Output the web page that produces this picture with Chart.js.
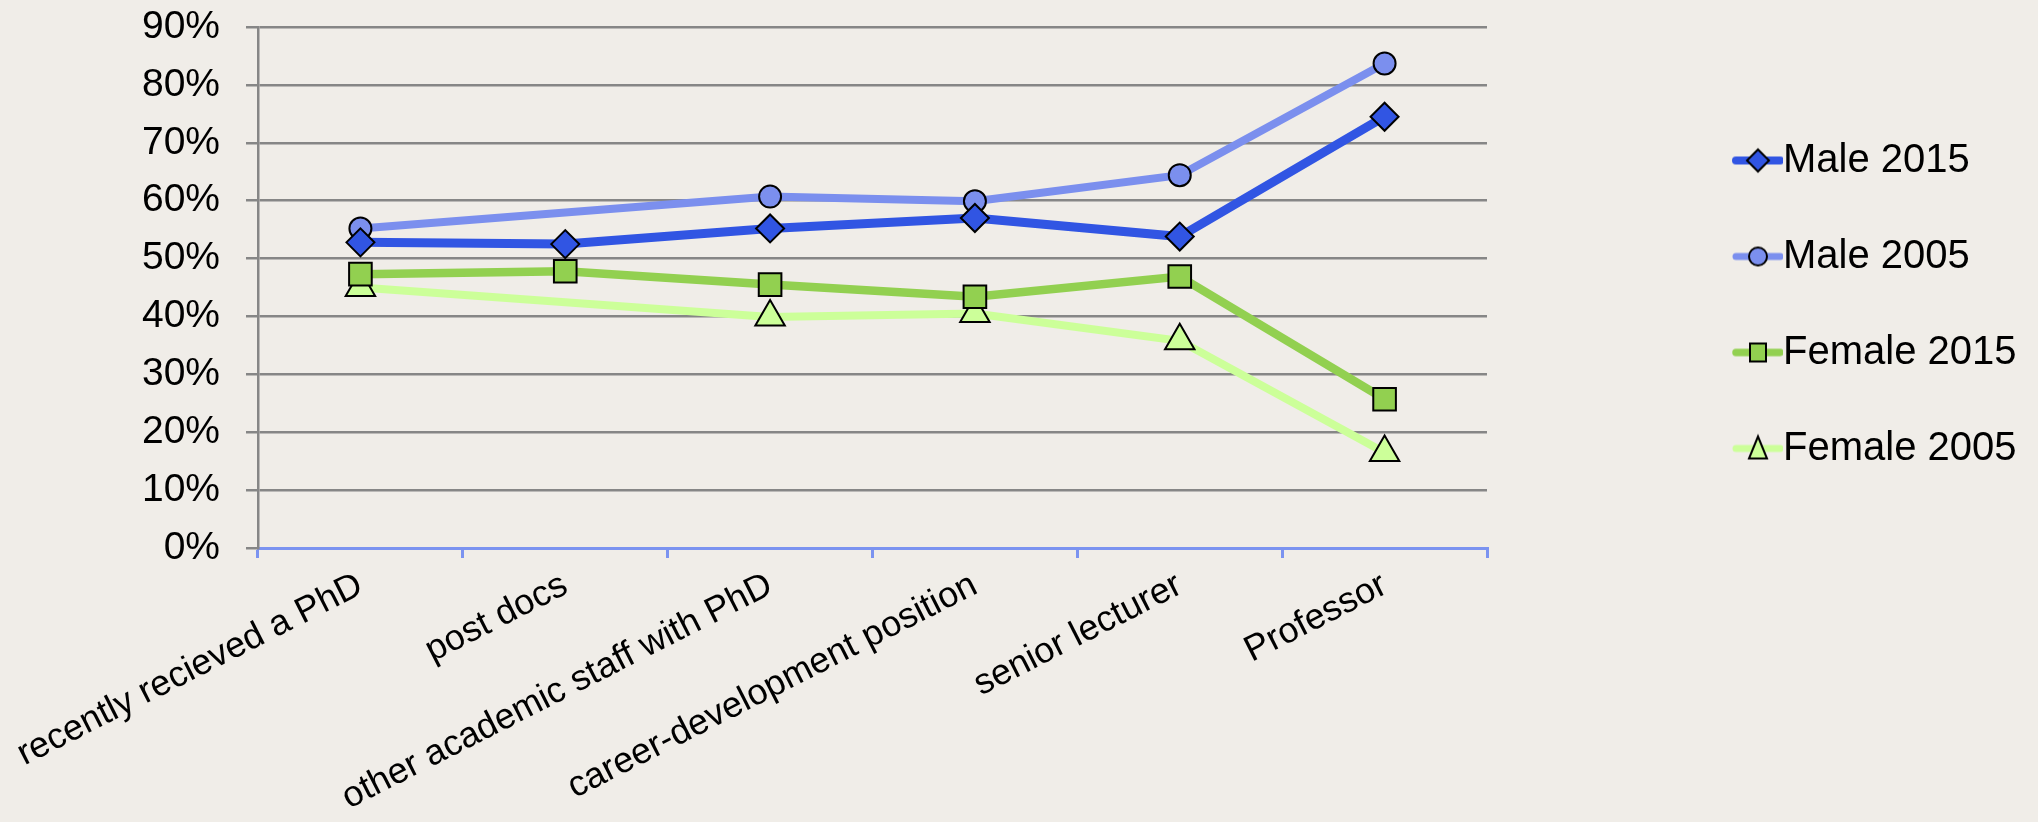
<!DOCTYPE html>
<html>
<head>
<meta charset="utf-8">
<script src="https://cdn.jsdelivr.net/npm/chart.js@4.4.0/dist/chart.umd.min.js"></script>
<style>
  html, body { margin: 0; padding: 0; background: #f0ede8; }
  #wrap { width: 2038px; height: 822px; }
</style>
</head>
<body>
<div id="wrap">
  <canvas id="chart" width="2038" height="822"></canvas>
</div>
<script>
// categories and values (percent)
const categories = ['recently recieved a PhD', 'post docs', 'other academic staff with PhD',
                    'career-development position', 'senior lecturer', 'Professor'];
const male2015   = [52.8, 52.5, 55.2, 57.0, 53.8, 74.5];
const male2005   = [55.2, null, 60.7, 59.9, 64.4, 83.7];
const female2015 = [47.3, 47.8, 45.5, 43.4, 46.9, 25.7];
const female2005 = [45.0, null, 39.9, 40.5, 35.8, 16.5];
const yTicks = [0, 10, 20, 30, 40, 50, 60, 70, 80, 90];

const FONT = 'Liberation Sans, Arial, sans-serif';

// legend symbol: short line with the marker on it
function legendIcon(color, lineW, shape) {
  const c = document.createElement('canvas');
  c.width = 260; c.height = 40;
  const g = c.getContext('2d');
  g.strokeStyle = color; g.lineWidth = lineW; g.lineCap = 'round';
  g.beginPath(); g.moveTo(213, 20); g.lineTo(257, 20); g.stroke();
  const x = 235, y = 20;
  g.beginPath();
  if (shape === 'diamond') {
    g.moveTo(x, y - 11); g.lineTo(x + 11, y); g.lineTo(x, y + 11); g.lineTo(x - 11, y); g.closePath();
  } else if (shape === 'circle') {
    g.arc(x, y, 9, 0, Math.PI * 2);
  } else if (shape === 'square') {
    g.rect(x - 8, y - 9, 16, 18);
  } else {
    g.moveTo(x, y - 12); g.lineTo(x + 9, y + 10); g.lineTo(x - 9, y + 10); g.closePath();
  }
  g.fillStyle = color; g.fill();
  g.lineWidth = 2; g.strokeStyle = '#000'; g.stroke();
  return c;
}

const series = [
  { label: 'Male 2015',   data: male2015,   color: '#3155e3', width: 9,   style: 'rectRot',  r: 14, icon: 'diamond' },
  { label: 'Male 2005',   data: male2005,   color: '#7b8fee', width: 8,   style: 'circle',   r: 11, icon: 'circle' },
  { label: 'Female 2015', data: female2015, color: '#92d050', width: 8.5, style: 'rect',     r: 16, icon: 'square' },
  { label: 'Female 2005', data: female2005, color: '#ccff99', width: 8,   style: 'triangle', r: 17, icon: 'triangle' }
];
const icons = series.map(s => legendIcon(s.color, s.width - 1, s.icon));

// fixed legend column width on the right
const legendWidth = {
  id: 'legendWidth',
  beforeInit(chart) {
    const lg = chart.legend;
    const fit = lg.fit;
    lg.fit = function () { fit.call(this); this.width = 551; };
  }
};

const chart = new Chart(document.getElementById('chart'), {
  type: 'line',
  data: {
    labels: categories,
    datasets: series.map(s => ({
      label: s.label,
      data: s.data,
      borderColor: s.color,
      backgroundColor: s.color,
      borderWidth: s.width,
      pointStyle: s.style,
      pointRadius: s.r,
      pointBackgroundColor: s.color,
      pointBorderColor: '#000',
      pointBorderWidth: 2,
      spanGaps: true,
      tension: 0
    }))
  },
  plugins: [legendWidth],
  options: {
    responsive: false,
    animation: false,
    devicePixelRatio: 1,
    layout: { padding: { top: 27, right: 0, bottom: 0, left: 0 } },
    plugins: {
      tooltip: { enabled: false },
      legend: {
        position: 'right',
        fullSize: false,
        align: 'center',
        title: { display: true, text: ' ', padding: 11, font: { size: 10 } },
        labels: {
          usePointStyle: true,
          pointStyleWidth: 220,
          padding: 56,
          color: '#000',
          font: { family: FONT, size: 40 },
          generateLabels: ch => ch.data.datasets.map((ds, i) => ({
            text: ds.label,
            datasetIndex: i,
            pointStyle: icons[i],
            fillStyle: ds.borderColor,
            strokeStyle: ds.borderColor,
            fontColor: '#000',
            lineWidth: 0,
            hidden: false
          }))
        }
      }
    },
    scales: {
      x: {
        offset: true,
        grid: { offset: true, drawOnChartArea: false, drawTicks: true, tickLength: 10, color: '#7b93f0', lineWidth: 3 },
        border: { color: '#7b93f0', width: 3 },
        ticks: { autoSkip: false, minRotation: 27, maxRotation: 27, padding: 6, color: '#000', font: { family: FONT, size: 36 } },
        afterFit: s => { s.height = 274; s.paddingLeft = 0; s.paddingRight = 0; }
      },
      y: {
        min: 0,
        max: 90,
        afterBuildTicks: s => { s.ticks = yTicks.map(v => ({ value: v })); },
        grid: { color: '#868686', lineWidth: 2.5, tickLength: 12 },
        border: { color: '#868686', width: 2.5 },
        ticks: { padding: 26, color: '#000', font: { family: FONT, size: 39 }, callback: v => v + '%' },
        afterFit: s => { s.width = 258; s.paddingTop = 0; }
      }
    }
  }
});
</script>
</body>
</html>
